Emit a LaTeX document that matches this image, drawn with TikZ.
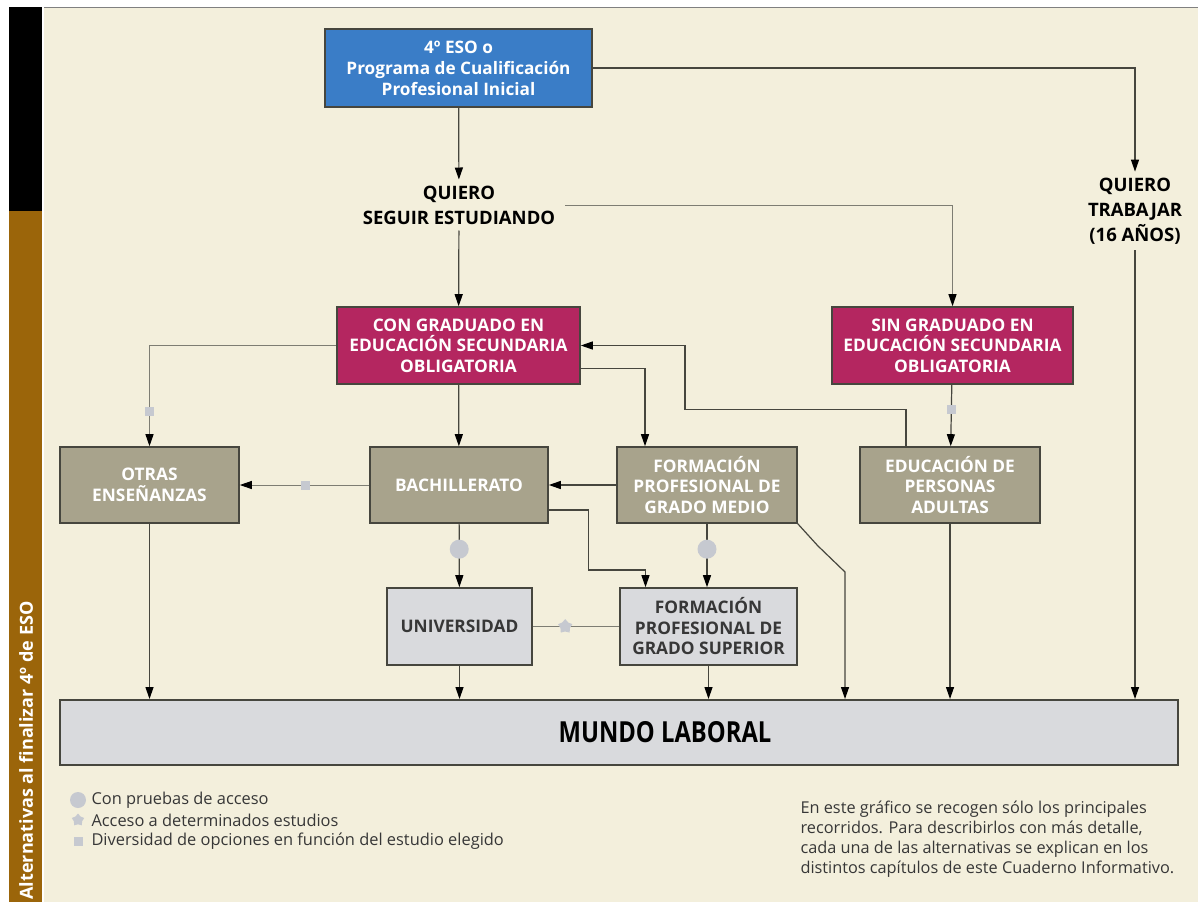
\documentclass[tikz,border=0pt]{standalone}
\usepackage{fontspec}
\setmainfont{Open Sans}
\usepackage{tikz}
\usetikzlibrary{arrows.meta,positioning,calc,shapes.geometric}

\definecolor{crema}{RGB}{243,239,220}
\definecolor{azul}{RGB}{58,125,199}
\definecolor{fucsia}{RGB}{180,38,96}
\definecolor{topo}{RGB}{168,163,140}
\definecolor{grisclaro}{RGB}{217,218,221}
\definecolor{marron}{RGB}{155,101,10}
\definecolor{linea}{RGB}{70,70,62}
\definecolor{lineaclara}{RGB}{125,125,115}
\definecolor{marca}{RGB}{198,201,208}
\definecolor{textogris}{RGB}{55,55,55}

\tikzset{
  caja/.style={draw=linea, line width=1.6pt, minimum width=179pt, minimum height=76pt,
    align=center, text=white, inner sep=2pt,
    font=\bfseries\fontsize{17.3}{20.5}\selectfont},
  cajaclara/.style={caja, fill=grisclaro, text=textogris},
  rotulo/.style={align=center, inner xsep=10pt, inner ysep=6pt,
    font=\bfseries\fontsize{18.5}{25}\selectfont},
  flecha/.style={draw=linea, line width=1.2pt, -{Triangle[width=8pt,length=12pt,color=black]}},
  fina/.style={draw=lineaclara, line width=1pt},
  circulo/.style={circle, fill=marca, minimum size=19pt, inner sep=0pt},
  cuadro/.style={rectangle, fill=marca, minimum size=9pt, inner sep=0pt},
  estrella/.style={star, star points=5, fill=marca, minimum size=15pt, inner sep=0pt},
  leyenda/.style={anchor=west, text=textogris, font=\fontsize{16.4}{17}\selectfont}
}

\begin{document}
\begin{tikzpicture}[x=1pt, y=-1pt]
  \useasboundingbox (0,0) rectangle (1198,902);
  % fondo y banda lateral
  \fill[crema] (44,8) rectangle (1198,902);
  \draw[gray, line width=0.8pt] (44,7.5) -- (1198,7.5);
  \fill[black] (9,7) rectangle (42,211);
  \fill[marron] (9,211) rectangle (42,902);
  \node[rotate=90, anchor=east, text=white, font=\bfseries\fontsize{18}{18}\selectfont]
    (lateral) at (26,598) {Alternativas al finalizar 4º de ESO};

  % cajas
  \node[caja, fill=azul, minimum width=267pt, minimum height=78pt,
    font=\bfseries\fontsize{17.2}{21}\selectfont] (eso) at (458.5,68)
    {4º ESO o\\Programa de Cualificación\\Profesional Inicial};
  \node[rotulo] (seguir) at (459,205) {QUIERO\\SEGUIR ESTUDIANDO};
  \node[rotulo] (trabajar) at (1135,211) {QUIERO\\TRABAJAR\\(16 AÑOS)};

  \node[caja, fill=fucsia, minimum width=243pt, minimum height=77pt] (con) at (458.5,345.5)
    {CON GRADUADO EN\\EDUCACIÓN SECUNDARIA\\OBLIGATORIA};
  \node[caja, fill=fucsia, minimum width=241pt, minimum height=77pt] (sin) at (952.5,345.5)
    {SIN GRADUADO EN\\EDUCACIÓN SECUNDARIA\\OBLIGATORIA};

  \node[caja, fill=topo] (otras) at (149.5,485) {OTRAS\\ENSEÑANZAS};
  \node[caja, fill=topo, minimum width=178pt] (bach) at (459,485) {BACHILLERATO};
  \node[caja, fill=topo, minimum width=180pt] (fpgm) at (707,485)
    {FORMACIÓN\\PROFESIONAL DE\\GRADO MEDIO};
  \node[caja, fill=topo, minimum width=180pt] (epa) at (950,485)
    {EDUCACIÓN DE\\PERSONAS\\ADULTAS};

  \node[cajaclara, minimum width=145pt, minimum height=77pt] (univ) at (459.5,626.5) {UNIVERSIDAD};
  \node[cajaclara, minimum width=177pt, minimum height=77pt] (fpgs) at (708.5,626.5)
    {FORMACIÓN\\PROFESIONAL DE\\GRADO SUPERIOR};

  \node[cajaclara, minimum width=1118pt, minimum height=65pt, line width=2pt] (mundo) at (619,732.5) {};
  \node[font=\bfseries\fontsize{29}{29}\selectfont] (mundotexto) at (665,732.5)
    {\scalebox{0.82}[1]{MUNDO LABORAL}};

  % conectores
  \draw[flecha] (eso) -- (seguir);
  \draw[flecha] (eso.east) -| (trabajar.north);
  \draw[flecha] (seguir) -- (con);
  \draw[fina, -{Triangle[width=8pt,length=12pt,color=black]}] (seguir.east) -| (sin.north);
  \draw[fina, -{Triangle[width=8pt,length=12pt,color=black]}] (con.west) -| node[pos=0.83, cuadro] (m1) {} (otras.north);
  \draw[flecha] (con) -- (bach);
  \draw[flecha] ([yshift=-23pt]con.east) -| ([xshift=-62pt]fpgm.north);
  \draw[flecha] (sin) -- node[pos=0.41, cuadro] (m2) {} (epa);
  \draw[flecha] ([xshift=-44pt]epa.north) |- ++(-221,-37) |- (con.east);
  \draw[flecha] (fpgm) -- (bach);
  \draw[fina, -{Triangle[width=8pt,length=12pt,color=black]}] (bach) -- node[pos=0.49, cuadro] (m3) {} (otras);
  \draw[flecha] (bach) -- node[pos=0.4, circulo] (m4) {} (univ);
  \draw[flecha] ([yshift=-25pt]bach.east) -| ++(40,60) -| ([xshift=-63pt]fpgs.north);
  \draw[flecha] (fpgm.south) -- node[pos=0.4, circulo] (m5) {} (fpgm.south |- fpgs.north);
  \draw[fina] (univ) -- node[pos=0.375, estrella] (m6) {} (fpgs);
  \coordinate (quiebre) at (845,572);
  \draw[flecha] (fpgm.south east) -- ++(20,22) -- (quiebre) -- (quiebre |- mundo.north);
  \foreach \n in {otras,univ,fpgs,epa,trabajar}
    \draw[flecha] (\n) -- (\n |- mundo.north);

  % leyenda
  \node[circulo, minimum size=16pt] (l1) at (78,800) {};
  \node[estrella, minimum size=13pt] (l2) at (78,820) {};
  \node[cuadro] (l3) at (78,841) {};
  \node[leyenda] (t1) at (88,800) {Con pruebas de acceso};
  \node[leyenda] (t2) at (88,820) {Acceso a determinados estudios};
  \node[leyenda] (t3) at (88,841) {Diversidad de opciones en función del estudio elegido};

  \node[anchor=north west, align=left, text=textogris, font=\fontsize{16.3}{20}\selectfont]
    (nota) at (797,797) {En este gráfico se recogen sólo los principales\\
    recorridos. Para describirlos con más detalle,\\
    cada una de las alternativas se explican en los\\
    distintos capítulos de este Cuaderno Informativo.};
\end{tikzpicture}
\end{document}
